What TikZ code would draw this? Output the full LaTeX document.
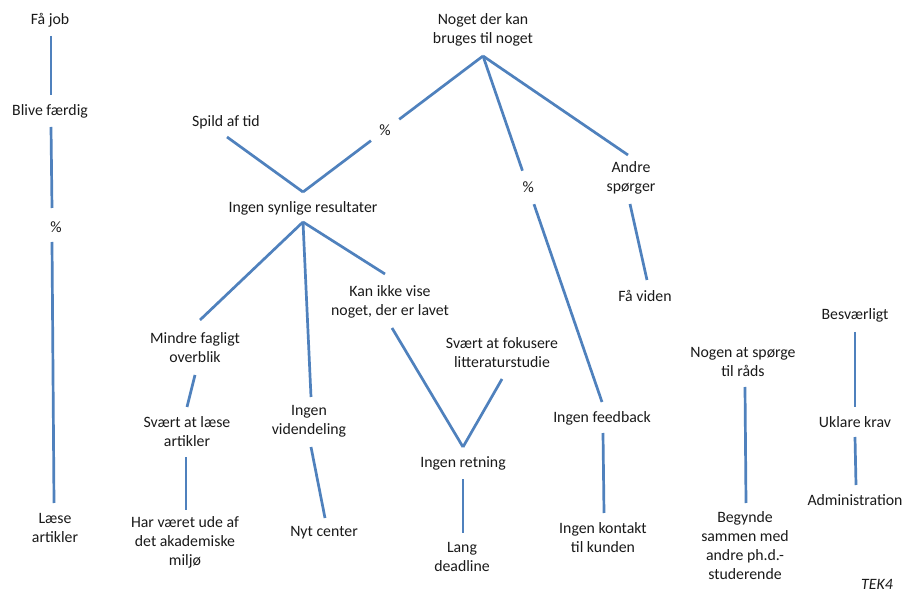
\documentclass[tikz,border=0pt]{standalone}
\usepackage{fontspec}
\setmainfont{Carlito}
\usetikzlibrary{calc}
\definecolor{linkblue}{HTML}{4F81BD}
\definecolor{ink}{HTML}{1A1A1A}
\begin{document}
\begin{tikzpicture}[x=1pt,y=-1pt,
  lbl/.style={align=center,inner sep=0pt,text=ink,font=\fontsize{15.8}{19}\selectfont},
  pct/.style={circle,fill=white,inner sep=0pt,minimum size=35pt,text=ink,font=\fontsize{15.8}{19}\selectfont},
  link/.style={draw=linkblue,line width=2.7pt}]
\useasboundingbox[fill=white] (0,0) rectangle (905,593);

% left column
\node[lbl] (faajob) at (50,20) {Få job};
\node[lbl] (blive) at (50,111) {Blive færdig};
\node[pct] (pctA) at (56,227) {\%};
\node[lbl] (laese) at (55,528) {Læse\\artikler};

% main tree
\node[lbl] (top) at (483,30) {Noget der kan\\bruges til noget};
\node[lbl] (spild) at (226,122) {Spild af tid};
\node[lbl] (isr) at (303,208) {Ingen synlige resultater};
\node[lbl] (andre) at (631,178) {Andre\\spørger};
\node[lbl] (viden) at (645,296) {Få viden};
\node[lbl] (mindre) at (195,348) {Mindre fagligt\\overblik};
\node[lbl] (svlaese) at (187,432) {Svært at læse\\artikler};
\node[lbl] (ude) at (185,542) {Har været ude af\\det akademiske\\miljø};
\node[lbl] (videndeling) at (309,421) {Ingen\\videndeling};
\node[lbl] (nyt) at (324,533) {Nyt center};
\node[lbl] (kan) at (390,302) {Kan ikke vise\\noget, der er lavet};
\node[lbl] (fokus) at (502,353) {Svært at fokusere\\litteraturstudie};
\node[lbl] (retning) at (463,463) {Ingen retning};
\node[lbl] (lang) at (462,557) {Lang\\deadline};
\node[lbl] (feedback) at (602,418) {Ingen feedback};
\node[lbl] (kontakt) at (603,538) {Ingen kontakt\\til kunden};

% right columns
\node[lbl] (nogen) at (743,362) {Nogen at spørge\\til råds};
\node[lbl] (begynde) at (745,546) {Begynde\\sammen med\\andre ph.d.-\\studerende};
\node[lbl] (besv) at (855,315) {Besværligt};
\node[lbl] (uklare) at (855,422) {Uklare krav};
\node[lbl] (admin) at (855,500) {Administration};
\node[lbl,font=\fontsize{15.8}{19}\selectfont\itshape] (tek) at (877,584) {TEK4};

% junction points just below / above the labels
\coordinate (topS) at ($(top)+(0,26)$);
\coordinate (isrN) at ($(isr)+(0,-16)$);
\coordinate (isrS) at ($(isr)+(0,14)$);
\coordinate (retN) at ($(retning)+(0,-16)$);
\coordinate (fbN) at ($(feedback)+(0,-16)$);

\node[pct] (pctB) at ($(topS)!0.544!(isrN)$) {\%};
\node[pct] (pctC) at ($(topS)!0.38!(fbN)$) {\%};

% connectors
\draw[link] ($(faajob)+(1,16)$) -- ($(blive)+(1,-16)$);
\draw[link] ($(blive)+(1,16)$) -- ($(pctA)+(-4,-19)$);
\draw[link] ($(pctA)+(-4,15)$) -- ($(laese)+(-1,-25)$);

\draw[link] (topS) -- (pctB);
\draw[link] (pctB) -- (isrN);
\draw[link] (topS) -- (pctC);
\draw[link] (pctC) -- (fbN);
\draw[link] (topS) -- ($(andre)+(-3,-23)$);
\draw[link] ($(spild)+(1,15)$) -- (isrN);

\draw[link] (isrS) -- ($(mindre)+(5,-28)$);
\draw[link] (isrS) -- ($(videndeling)+(2,-24)$);
\draw[link] (isrS) -- ($(kan)+(-5,-28)$);

\draw[link] ($(mindre)+(0,27)$) -- ($(svlaese)+(0,-25)$);
\draw[link] ($(svlaese)+(-1,25)$) -- ($(ude)+(1,-32)$);
\draw[link] ($(videndeling)+(2,26)$) -- ($(nyt)+(1,-15)$);
\draw[link] ($(kan)+(2,26)$) -- (retN);
\draw[link] ($(fokus)+(0,26)$) -- (retN);
\draw[link] ($(retning)+(0,16)$) -- ($(lang)+(1,-24)$);
\draw[link] ($(feedback)+(1,15)$) -- ($(kontakt)+(1,-25)$);
\draw[link] ($(andre)+(-1,26)$) -- ($(viden)+(2,-16)$);

\draw[link] ($(nogen)+(2,25)$) -- ($(begynde)+(1,-43)$);
\draw[link] ($(besv)+(0,17)$) -- ($(uklare)+(0,-15)$);
\draw[link] ($(uklare)+(0,15)$) -- ($(admin)+(1,-15)$);
\end{tikzpicture}
\end{document}
